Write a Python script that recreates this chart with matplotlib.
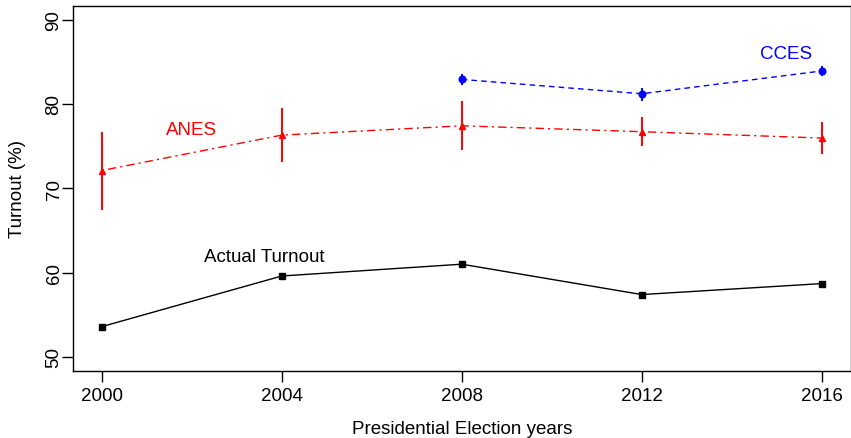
import matplotlib
matplotlib.use("Agg")
import matplotlib.pyplot as plt

plt.rcParams['font.family'] = ['Liberation Sans', 'DejaVu Sans']

years = [2000, 2004, 2008, 2012, 2016]
actual = [53.6, 59.6, 61.0, 57.4, 58.7]

anes = [72.1, 76.3, 77.4, 76.7, 75.95]
anes_hi = [76.7, 79.5, 80.3, 78.4, 77.8]
anes_lo = [67.4, 73.1, 74.5, 75.0, 74.05]

cces_years = [2008, 2012, 2016]
cces = [82.9, 81.2, 83.9]
cces_hi = [83.6, 81.9, 84.5]
cces_lo = [82.2, 80.4, 83.25]

yticks = [50, 60, 70, 80, 90]

FS = 13.5
W, H = 851, 439
L, R, T, B = 73, 850.5, 7, 371.5
fig = plt.figure(figsize=(W / 100, H / 100), dpi=100)
ax = fig.add_axes([L / W, 1 - B / H, (R - L) / W, (B - T) / H])

ax.plot(years, actual, color='black', lw=1.0, marker='s', ms=4.6)

ax.plot(years, anes, color='red', lw=1.0, marker='^', ms=5.0,
        dashes=(1.5, 3, 6, 3))
ax.vlines(years, anes_lo, anes_hi, color='red', lw=1.4)

ax.plot(cces_years, cces, color='blue', lw=1.0, marker='o', ms=4.8,
        dashes=(4, 3))
ax.vlines(cces_years, cces_lo, cces_hi, color='blue', lw=1.4)

ax.text(2002.0, 77.0, 'ANES', color='red', fontsize=FS, ha='center', va='center')
ax.text(2015.2, 86.0, 'CCES', color='blue', fontsize=FS, ha='center', va='center')
ax.text(2003.6, 61.9, 'Actual Turnout', color='black', fontsize=FS, ha='center', va='center')

ax.set_xlim(1999.36, 2016.64)
ax.set_ylim(48.4, 91.6)
ax.set_xticks(years)
ax.set_yticks(yticks)
ax.set_yticklabels([str(v) for v in yticks], rotation=90, va='center')
ax.tick_params(axis='both', direction='out', length=8, width=1, labelsize=FS)
ax.tick_params(axis='x', pad=4)
ax.tick_params(axis='y', pad=-0.5)
for s in ax.spines.values():
    s.set_linewidth(1)

ax.set_xlabel('Presidential Election years', fontsize=FS)
ax.set_ylabel('Turnout (%)', fontsize=FS)
ax.xaxis.set_label_coords(0.5, (B - 421.0) / (B - T))
ax.yaxis.set_label_coords((26.0 - L) / (R - L), 0.5)

fig.savefig('out.png', dpi=100)
